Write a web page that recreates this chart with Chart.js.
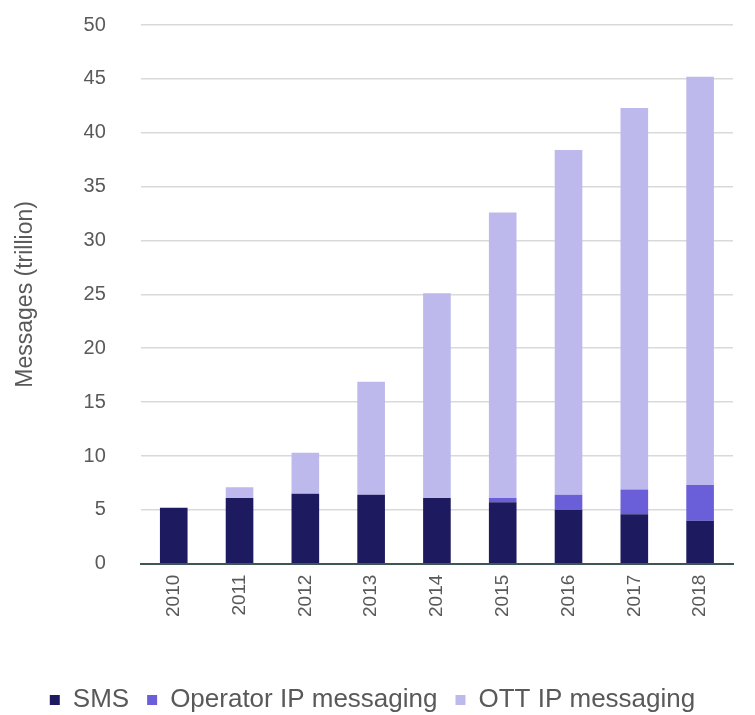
<!DOCTYPE html>
<html>
<head>
<meta charset="utf-8">
<script src="https://cdn.jsdelivr.net/npm/chart.js@4"></script>
<style>
html,body{margin:0;padding:0;background:#fff;}
#wrap{width:755px;height:715px;}
</style>
</head>
<body>
<div id="wrap"><canvas id="c" width="755" height="715"></canvas></div>
<script>
const categories = ["2010","2011","2012","2013","2014","2015","2016","2017","2018"];
const smsValues = [5.2, 6.1, 6.5, 6.4, 6.1, 5.7, 5.0, 4.6, 4.0];
const operatorValues = [0, 0, 0, 0, 0, 0.4, 1.4, 2.3, 3.3];
const ottValues = [0, 1.0, 3.8, 10.5, 19.0, 26.5, 32.0, 35.4, 37.9];
const seriesNames = ["SMS", "Operator IP messaging", "OTT IP messaging"];
const yTicks = [0, 5, 10, 15, 20, 25, 30, 35, 40, 45, 50];

const fontFamily = "'Liberation Sans', Arial, sans-serif";
const textColor = "#595959";

new Chart(document.getElementById("c"), {
  type: "bar",
  data: {
    labels: categories,
    datasets: [
      { label: seriesNames[0], data: smsValues, backgroundColor: "#1e1a60" },
      { label: seriesNames[1], data: operatorValues, backgroundColor: "#6a5fd9" },
      { label: seriesNames[2], data: ottValues, backgroundColor: "#bdb9ec" }
    ]
  },
  options: {
    responsive: false,
    animation: false,
    layout: { padding: { top: 25, right: 22, left: 12, bottom: -8 } },
    datasets: { bar: { barPercentage: 0.42, categoryPercentage: 1.0 } },
    plugins: {
      legend: {
        position: "bottom",
        labels: {
          boxWidth: 10, boxHeight: 10, padding: 18,
          color: textColor,
          font: { family: fontFamily, size: 26 }
        }
      },
      tooltip: { enabled: false }
    },
    scales: {
      x: {
        stacked: true,
        grid: { display: false, drawTicks: false },
        border: { display: true, color: "#3d5656", width: 2 },
        ticks: {
          color: textColor, minRotation: 90, maxRotation: 90, padding: 11,
          font: { family: fontFamily, size: 19 }
        },
        afterFit: (axis) => { axis.height += 41; }
      },
      y: {
        stacked: true,
        min: 0, max: 50,
        afterBuildTicks: (axis) => { axis.ticks = yTicks.map(v => ({ value: v })); },
        grid: { color: "#d9d9d9", lineWidth: 1.5, drawTicks: true, tickLength: 33, tickColor: "rgba(0,0,0,0)" },
        border: { display: false },
        ticks: {
          color: textColor, padding: 2,
          font: { family: fontFamily, size: 20 }
        },
        title: {
          display: true, text: "Messages (trillion)", color: textColor,
          font: { family: fontFamily, size: 23 }, padding: { top: 0, bottom: 42 }
        }
      }
    }
  }
});
</script>
</body>
</html>
